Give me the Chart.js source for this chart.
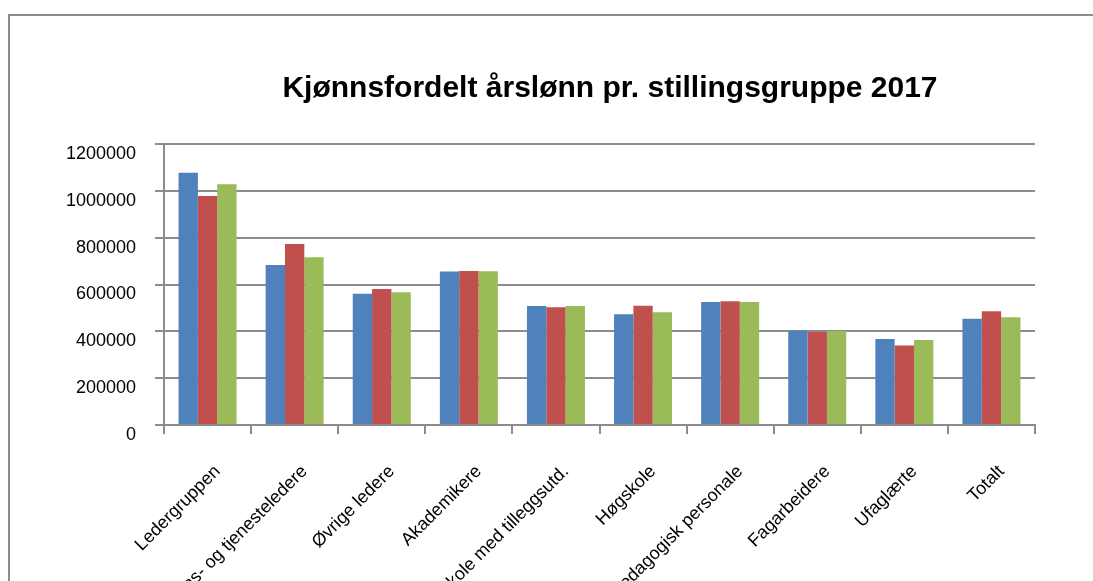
<!DOCTYPE html>
<html>
<head>
<meta charset="utf-8">
<script src="https://cdn.jsdelivr.net/npm/chart.js@4/dist/chart.umd.min.js"></script>
<style>
  html, body { margin: 0; padding: 0; background: #fff; overflow: hidden; width: 1093px; height: 581px; }
  #frame { position: absolute; left: 8px; top: 14px; width: 2000px; height: 2000px;
           border-left: 2px solid #8c8c8c; border-top: 2px solid #8c8c8c; }
  #chart { position: absolute; left: 0; top: 0; }
</style>
</head>
<body>
<div id="frame"></div>
<canvas id="chart" width="1093" height="700"></canvas>
<script>
const title = 'Kjønnsfordelt årslønn pr. stillingsgruppe 2017';

const categories = [
  'Ledergruppen',
  'Seksjons- og tjenesteledere',
  'Øvrige ledere',
  'Akademikere',
  'Høgskole med tilleggsutd.',
  'Høgskole',
  'Pedagogisk personale',
  'Fagarbeidere',
  'Ufaglærte',
  'Totalt'
];

const serie1 = [1077000, 683000, 561000, 656000, 508000, 473000, 525000, 403000, 367000, 454000];
const serie2 = [978000, 773000, 581000, 658000, 503000, 509000, 528000, 397000, 340000, 486000];
const serie3 = [1028000, 716000, 567000, 657000, 508000, 481000, 525000, 401000, 363000, 460000];

const yTicks = [0, 200000, 400000, 600000, 800000, 1000000, 1200000];

const gridColor = '#8c8c8c';

// title drawn at a fixed spot, like the original sheet
const titlePlugin = {
  id: 'sheetTitle',
  afterDraw(chart) {
    const ctx = chart.ctx;
    ctx.save();
    ctx.font = 'bold 30px "Liberation Sans", Arial, sans-serif';
    ctx.fillStyle = '#000';
    ctx.textAlign = 'center';
    ctx.textBaseline = 'alphabetic';
    ctx.fillText(title, 610, 97);
    ctx.restore();
  }
};

new Chart(document.getElementById('chart'), {
  type: 'bar',
  data: {
    labels: categories,
    datasets: [
      { label: 'Serie1', data: serie1, backgroundColor: '#4F81BD' },
      { label: 'Serie2', data: serie2, backgroundColor: '#C0504D' },
      { label: 'Serie3', data: serie3, backgroundColor: '#9BBB59' }
    ]
  },
  options: {
    responsive: false,
    animation: false,
    devicePixelRatio: 1,
    layout: { padding: { top: 144, right: 58, left: 0, bottom: 0 } },
    datasets: {
      bar: { categoryPercentage: 0.666, barPercentage: 1, borderWidth: 0 }
    },
    plugins: {
      legend: { display: false },
      title: { display: false },
      tooltip: { enabled: false }
    },
    scales: {
      x: {
        grid: {
          drawOnChartArea: false,
          drawTicks: true,
          tickLength: 9,
          color: gridColor,
          lineWidth: 2
        },
        border: { color: gridColor, width: 2 },
        ticks: {
          autoSkip: false,
          maxRotation: 45,
          minRotation: 45,
          padding: 27,
          labelOffset: 10,
          color: '#000',
          font: { family: '"Liberation Sans", Arial, sans-serif', size: 18 }
        },
        afterFit(scale) { scale.height = 275; }
      },
      y: {
        min: 0,
        max: 1200000,
        afterBuildTicks(scale) { scale.ticks = yTicks.map(v => ({ value: v })); },
        grid: {
          color: gridColor,
          lineWidth: 2,
          tickLength: 9
        },
        border: { color: gridColor, width: 2 },
        ticks: {
          padding: 19,
          labelOffset: 10,
          color: '#000',
          font: { family: '"Liberation Sans", Arial, sans-serif', size: 18 },
          callback: v => String(v)
        },
        afterFit(scale) { scale.width = 164; }
      }
    }
  },
  plugins: [titlePlugin]
});
</script>
</body>
</html>
